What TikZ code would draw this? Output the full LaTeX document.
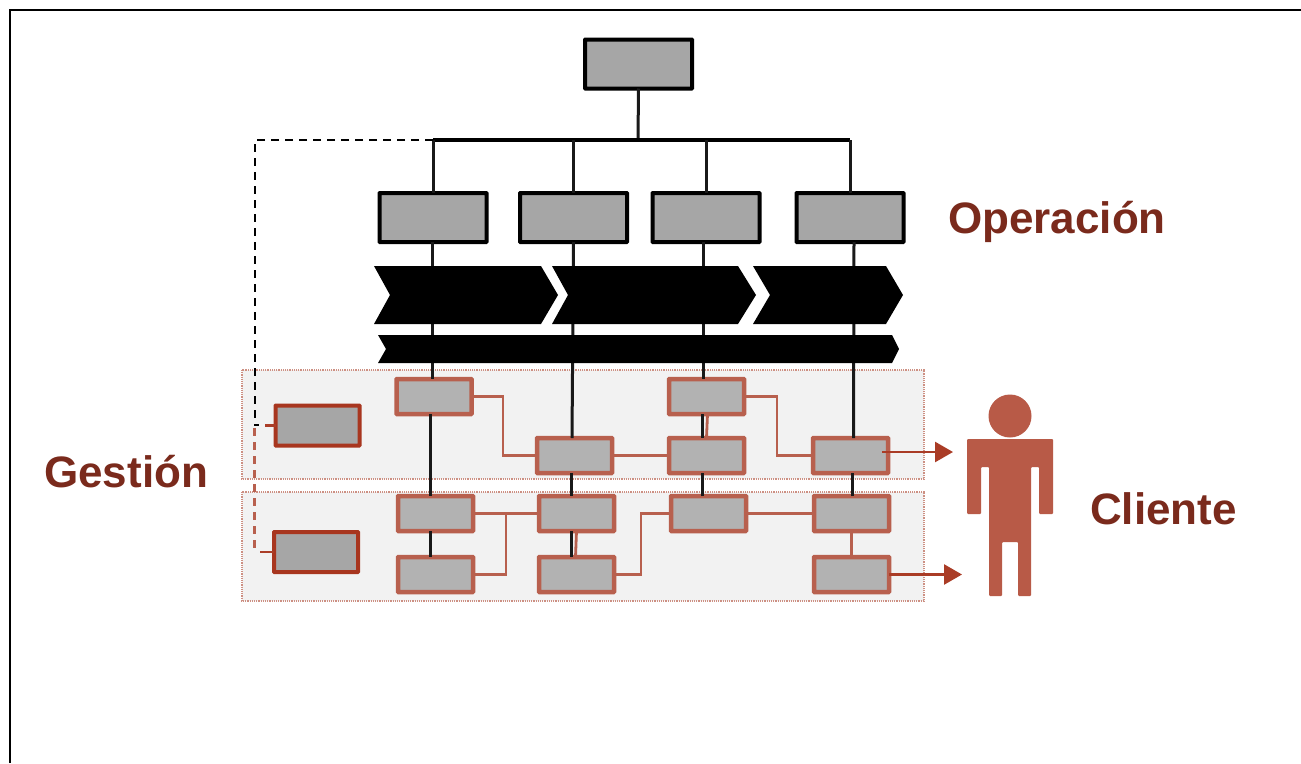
\documentclass[tikz,border=0pt]{standalone}
\usepackage{fontspec}
\setmainfont{Liberation Sans}
\usetikzlibrary{arrows.meta,calc}
\definecolor{rline}{HTML}{B8604E}
\definecolor{dred}{HTML}{A8361F}
\definecolor{txt}{HTML}{7A2A1C}
\definecolor{fig}{HTML}{B85A47}
\tikzset{
 x=1pt,y=-1pt,
 opbox/.style={draw=black,line width=4pt,fill=black!35,rounded corners=0.5pt,minimum width=107pt,minimum height=49pt,inner sep=0pt,outer sep=0pt},
 rbox/.style={draw=rline,line width=4.5pt,fill=black!30,rounded corners=0.5pt,minimum width=75pt,minimum height=35pt,inner sep=0pt,outer sep=0pt},
 gbox/.style={draw=dred,line width=4pt,fill=black!35,rounded corners=0.5pt,minimum width=84pt,minimum height=40pt,inner sep=0pt,outer sep=0pt},
 panel/.style={draw=rline!70,densely dotted,line width=1.2pt,fill=black!5},
 bk/.style={draw=black!90,line width=3pt},
 rl/.style={draw=rline,line width=2.8pt},
 dsh/.style={line width=2.8pt,dash pattern=on 8pt off 6pt},
 arr/.style={draw=dred!85!rline,line width=2.6pt,-{Triangle[length=18pt,width=20pt]}},
 lab/.style={font=\fontsize{44}{44}\selectfont\bfseries,text=txt,inner sep=0pt,anchor=base west},
}
\begin{document}
\begin{tikzpicture}
\useasboundingbox (0,0) rectangle (1301,763);
\fill[white] (0,0) rectangle (1301,763);
\draw[black,line width=2pt] (9.5,763) -- (9.5,9.5) -- (1301,9.5);

% panels
\draw[panel] (242,370) rectangle (924,479);
\draw[panel] (242,492) rectangle (924,601);

% operation boxes
\node[opbox] (top) at (638.5,64) {};
\node[opbox] (o1) at (433,217.5) {};
\node[opbox] (o2) at (573.5,217.5) {};
\node[opbox] (o3) at (706,217.5) {};
\node[opbox] (o4) at (850,217.5) {};

% red boxes
\node[rbox] (a1) at (434,396.5) {};
\node[rbox] (b2) at (574.5,455.5) {};
\node[rbox] (a3) at (706.5,396.5) {};
\node[rbox] (b3) at (706.5,455.5) {};
\node[rbox] (b4) at (850.5,455.5) {};
\node[rbox] (c1) at (435.5,513.5) {};
\node[rbox] (c2) at (576.5,513.5) {};
\node[rbox] (c3) at (708.5,513.5) {};
\node[rbox] (c4) at (851.5,513.5) {};
\node[rbox] (d1) at (435.5,574.5) {};
\node[rbox] (d2) at (576.5,574.5) {};
\node[rbox] (d4) at (851.5,574.5) {};
\node[gbox] (g1) at (317.5,425.5) {};
\node[gbox] (g2) at (316,552) {};

% black connectors
\coordinate (bus) at (638,140);
\draw[bk] (top.south) -- (bus);
\draw[black,line width=3.4pt] (o1.north |- bus) -- (o4.north |- bus);
\draw[bk] (o1.north |- bus) -- (o1.north);
\draw[bk] (o2.north |- bus) -- (o2.north);
\draw[bk] (o3.north |- bus) -- (o3.north);
\draw[bk] (o4.north |- bus) -- (o4.north);
\draw[bk] ($(o1.south)+(-1,0)$) -- (a1.north -| 432,0);
\draw[bk] (o2.south) -- ($(b2.north)+(-2.5,0)$);
\draw[bk] ($(o3.south)+(-3,0)$) -- (a3.north -| 703,0);
\draw[bk] ($(o4.south)+(4,0)$) -- ($(b4.north)+(3,0)$);
\draw[bk] ($(a1.south)+(-4,0)$) -- ($(c1.north)+(-5.5,0)$);
\draw[bk] ($(b2.south)+(-3.5,0)$) -- ($(c2.north)+(-5.5,0)$);
\draw[bk] ($(a3.south)+(-4.5,0)$) -- ($(b3.north)+(-4.5,0)$);
\draw[bk] ($(b3.south)+(-4.5,0)$) -- ($(c3.north)+(-6.5,0)$);
\draw[bk] ($(b4.south)+(2,0)$) -- ($(c4.north)+(1,0)$);
\draw[bk] ($(c1.south)+(-5.5,0)$) -- ($(d1.north)+(-5.5,0)$);
\draw[bk] ($(c2.south)+(-5.5,0)$) -- ($(d2.north)+(-5.5,0)$);

% chevrons
\fill[black] (374,266) -- (541,266) -- (558,295) -- (541,324) -- (374,324) -- (390,295) -- cycle;
\fill[black] (552,266) -- (738,266) -- (756,295) -- (738,324) -- (552,324) -- (568,295) -- cycle;
\fill[black] (753,266) -- (886,266) -- (903,295) -- (886,324) -- (753,324) -- (770,295) -- cycle;
\fill[black] (378,335) -- (892,335) -- (899,349) -- (892,363) -- (378,363) -- (386,349) -- cycle;

% dashed
\coordinate (hook) at (255,425);
\draw[black,dsh] (o1.north |- bus) -- (255,140) -- (hook) -- (259,425);
\draw[draw=rline,dsh] (254.5,428) -- (254.5,551);
\draw[draw=dred!80!rline,line width=2.6pt] (265,425.5) -- (g1.west);
\draw[draw=dred!80!rline,line width=2.6pt] (260,552) -- (g2.west);

% red connectors
\draw[rl] (a1.east) -- (503,396.5) -- (503,455.5) -- (b2.west);
\draw[rl] (b2.east) -- (b3.west);
\draw[rl] (a3.east) -- (777,396.5) -- (777,455.5) -- (b4.west);
\draw[rl] ($(a3.south)+(1,0)$) -- ($(b3.north)+(0,0)$);
\draw[rl] (c1.east) -- (c2.west);
\draw[rl] (d1.east) -- (506,574.5) -- (506,513.5);
\draw[rl] ($(c2.south)+(0,0)$) -- ($(d2.north)+(-1,0)$);
\draw[rl] (d2.east) -- (641,574.5) -- (641,513.5) -- (c3.west);
\draw[rl] (c3.east) -- (c4.west);
\draw[rl] (c4.south) -- (d4.north);

% arrows
\coordinate (t1) at (953,452);
\coordinate (t2) at (962,574.5);
\draw[arr] (882,452) -- (t1);
\draw[arr] (d4.east) -- (t2);

% person
\fill[fig] (1010,416) circle (21.5);
\fill[fig,rounded corners=1pt] (967,439) -- (1053,439) -- (1053,514) -- (1039,514) -- (1039,467) -- (1031,467) -- (1031,596) -- (1018,596) -- (1018,542) -- (1002,542) -- (1002,596) -- (989,596) -- (989,467) -- (981,467) -- (981,514) -- (967,514) -- cycle;

% labels
\node[lab] (lop) at (948,233) {Operación};
\node[lab] (lge) at (44,487) {Gestión};
\node[lab] (lcl) at (1090,524) {Cliente};
\end{tikzpicture}
\end{document}
